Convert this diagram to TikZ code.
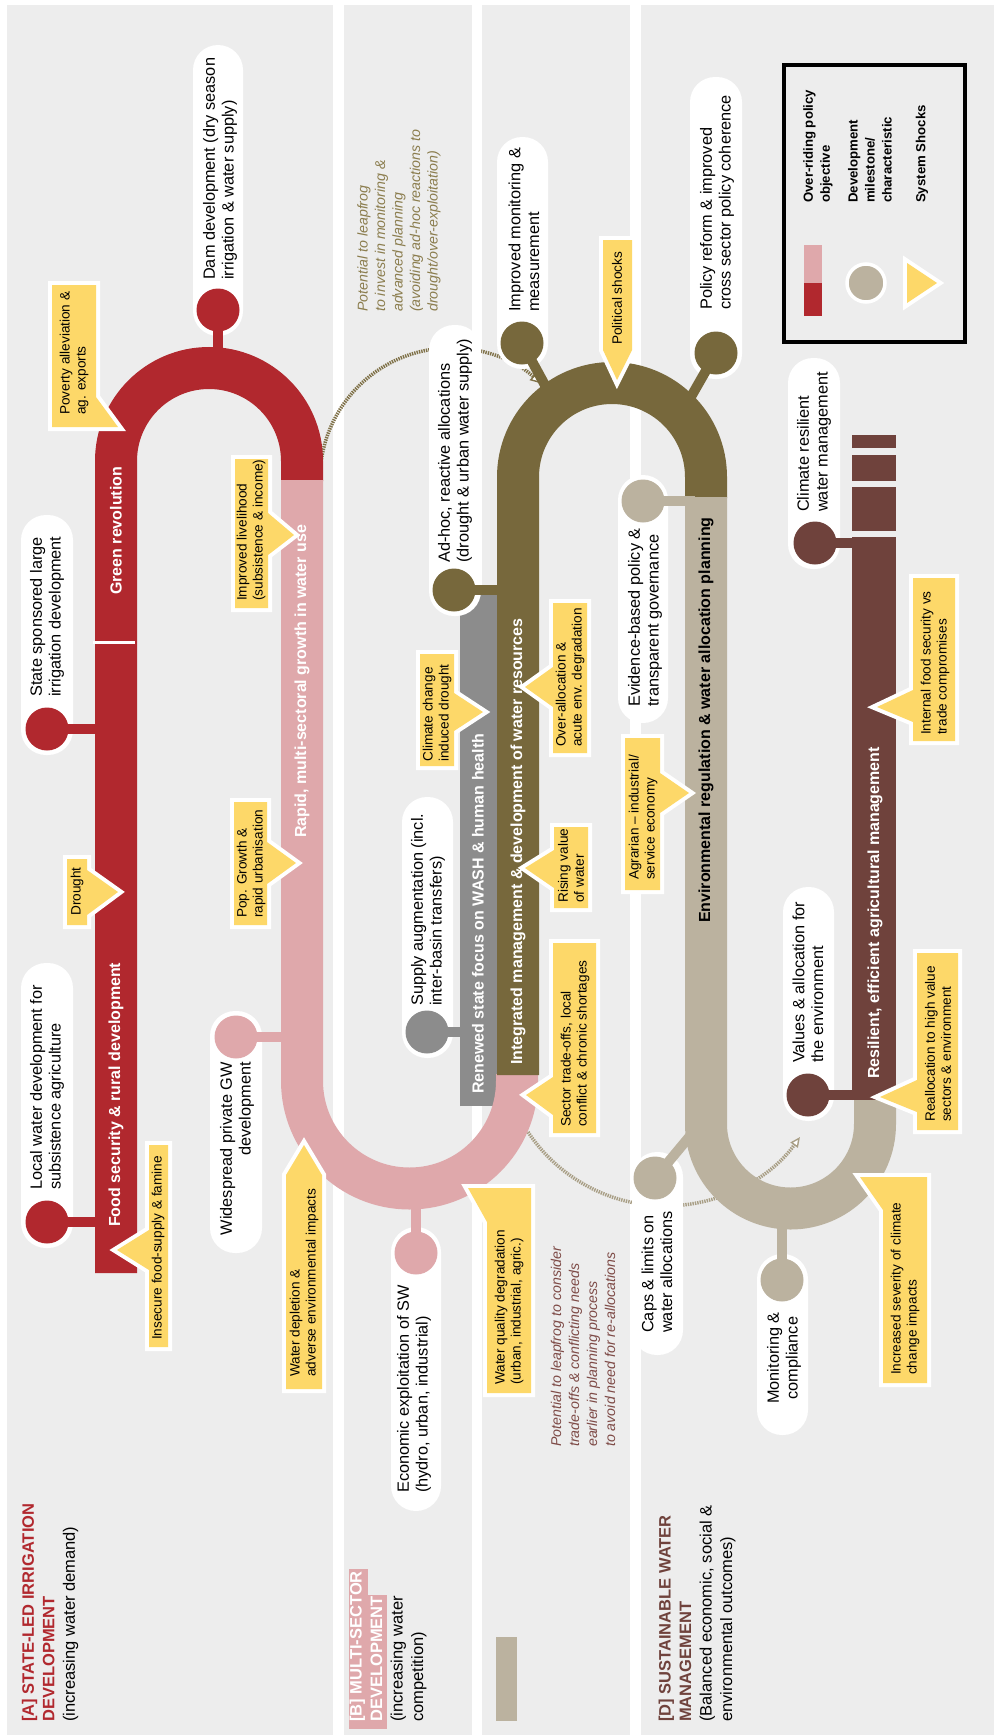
\documentclass[tikz,border=0pt]{standalone}
\usepackage{fontspec}
\setmainfont{Liberation Sans}
\usetikzlibrary{arrows.meta}
\definecolor{lanebg}{HTML}{EDEDED}
\definecolor{cred}{HTML}{B1282E}
\definecolor{cpink}{HTML}{DFA8AB}
\definecolor{colive}{HTML}{77683C}
\definecolor{cgray}{HTML}{8C8C8C}
\definecolor{ctan}{HTML}{BBB29F}
\definecolor{cbrown}{HTML}{6F423C}
\definecolor{cyellow}{HTML}{FDD869}
\definecolor{cannA}{HTML}{8B7D4E}
\definecolor{cannB}{HTML}{7E4B47}
\definecolor{cdotA}{HTML}{7F7148}
\definecolor{cdotB}{HTML}{A89E85}
\begin{document}
\begin{tikzpicture}[x=1pt,y=1pt,
  mtext/.style={rotate=90,inner sep=0,font=\fontsize{16.3}{18.7}\selectfont,align=left,anchor=west},
  stext/.style={rotate=90,inner sep=0,font=\fontsize{13.6}{16}\selectfont,align=left,anchor=west},
  btext/.style={rotate=90,inner sep=0,font=\fontsize{16}{19}\selectfont\bfseries,text=white,anchor=west},
  itext/.style={rotate=90,inner sep=0,font=\fontsize{14.2}{17.5}\selectfont\itshape,align=left,anchor=west},
  ltext/.style={rotate=90,inner sep=0,font=\fontsize{13.2}{17}\selectfont\bfseries,align=left,anchor=west},
  lanelab/.style={rotate=90,inner sep=0,font=\fontsize{16.5}{20.5}\selectfont,align=left,anchor=west},
  pill/.style={fill=white,rounded corners=25},
  mile/.style={circle,inner sep=0,minimum size=43},
  stem/.style={line width=10},
  band/.style={line width=42},
  shock/.style={fill=cyellow,preaction={draw=white,fill=white,line width=8,line join=miter}},
  dots/.style={line width=3.5,dash pattern=on 1.4pt off 1pt},
]
\useasboundingbox (0,0) rectangle (995,-1735);
\fill[white] (0,0) rectangle (995,-1735);
% lanes
\fill[lanebg] (7,-5) rectangle (333,-1735);
\fill[lanebg] (344,-5) rectangle (472,-1735);
\fill[lanebg] (482,-5) rectangle (630,-1735);
\fill[lanebg] (641,-5) rectangle (994,-1735);

% dotted leapfrog arcs
\draw[dots,cdotA,-{Triangle[open,length=10pt,width=10pt,line width=1.4pt,fill=white]}]
  (451,-479) ++(185:131) arc[start angle=185,end angle=47,radius=131];
\draw[dots,cdotB,-{Triangle[open,length=10pt,width=9pt,line width=1.4pt,fill=white]}]
  (665.7,-1040.6) ++(213.6:165.3) arc[start angle=213.6,end angle=324.3,radius=165.3];

% bands
\draw[band,cgray,line width=37] (478.5,-1106) -- (478.5,-595);
\draw[band,cred] (116,-1273) -- (116,-461) arc[start angle=180,end angle=0,radius=93] -- (302,-481);
\draw[band,cpink] (302,-480) -- (302,-1081) arc[start angle=180,end angle=360,radius=107.5] -- (517,-1074);
\draw[band,colive] (518,-1075) -- (518,-477) arc[start angle=180,end angle=0,radius=94] -- (706,-498);
\draw[band,ctan] (706,-497) -- (706,-1124) arc[start angle=180,end angle=360,radius=84.5] -- (875,-1099);
\draw[band,cbrown,line width=44] (874,-1100) -- (874,-537);
\draw[band,cbrown,line width=44] (874,-531) -- (874,-487);
\draw[band,cbrown,line width=44] (874,-481) -- (874,-455);
\draw[band,cbrown,line width=44] (874,-448) -- (874,-435);
\draw[white,line width=3] (93,-642) -- (135,-642);

% pills
\fill[pill] (21,-963) rectangle (73,-1248);
\fill[pill] (21,-515) rectangle (73,-755);
\fill[pill] (193,-45) rectangle (243,-336);
\fill[pill] (210,-1011) rectangle (262,-1253);
\fill[pill] (391,-1227) rectangle (441,-1511);
\fill[pill] (402,-797) rectangle (453,-1058);
\fill[pill] (429,-325) rectangle (481,-616);
\fill[pill] (497,-137) rectangle (548,-369);
\fill[pill] (690,-77) rectangle (742,-379);
\fill[pill] (618,-475) rectangle (668,-723);
\fill[pill] (632,-1152) rectangle (683,-1355);
\fill[pill] (757,-1254) rectangle (808,-1435);
\fill[pill] (783,-887) rectangle (834,-1121);
\fill[pill] (788,-358) rectangle (840,-569);

% milestone circles
\node[mile] (m1) at (47,-1222) {};
\node[mile] (m2) at (47,-729) {};
\node[mile] (m3) at (218,-310) {};
\node[mile] (m4) at (236,-1037) {};
\node[mile] (m5) at (416,-1253) {};
\node[mile] (m6) at (427,-1032) {};
\node[mile] (m7) at (454,-590) {};
\node[mile] (m8) at (522,-343) {};
\node[mile] (m9) at (716,-353) {};
\node[mile] (m10) at (643,-501) {};
\node[mile] (m11) at (655,-1178) {};
\node[mile] (m12) at (782,-1280) {};
\node[mile] (m13) at (808,-1095) {};
\node[mile] (m14) at (815,-543) {};

% stem end points on the bands
\coordinate (b1) at (100,-1222);
\coordinate (b2) at (100,-729);
\coordinate (b3) at (218,-362);
\coordinate (b4) at (290,-1037);
\coordinate (b5) at (416,-1200);
\coordinate (b6) at (470,-1032);
\coordinate (b7) at (505,-590);
\coordinate (b8) at (552,-398);
\coordinate (b9) at (688,-402);
\coordinate (b10) at (695,-501);
\coordinate (b11) at (695,-1130);
\coordinate (b12) at (782,-1220);
\coordinate (b13) at (860,-1095);
\coordinate (b14) at (860,-543);
\foreach \n/\c in {1/cred,2/cred,3/cred,4/cpink,5/cpink,6/cgray,7/colive,8/colive,9/colive,10/ctan,11/ctan,12/ctan,13/cbrown,14/cbrown}{
  \draw[stem,\c] (m\n.center) -- (b\n);
  \fill[\c] (m\n.center) circle[radius=21.5];
}

% band labels
\node[btext] (bl1) at (116,-1227) {Food security \& rural development};
\node[btext] (bl2) at (116,-595) {Green revolution};
\node[btext] (bl3) at (302,-838) {Rapid, multi-sectoral growth in water use};
\node[btext] (bl4) at (478,-1094) {Renewed state focus on WASH \& human health};
\node[btext] (bl5) at (518,-1065) {Integrated management \& development of water resources};
\node[btext,text=black] (bl6) at (706,-923) {Environmental regulation \& water allocation planning};
\node[btext] (bl7) at (875,-1079) {Resilient, efficient agricultural management};

% milestone texts
\node[mtext] (t1) at (47,-1190) {Local water development for\\subsistence agriculture};
\node[mtext] (t2) at (47,-697) {State sponsored large\\irrigation development};
\node[mtext] (t3) at (220,-280) {Dam development (dry season\\irrigation \& water supply)};
\node[mtext,anchor=east,align=right] (t4) at (237,-1062) {Widespread private GW\\development};
\node[mtext] (t5) at (414,-1493) {Economic exploitation of SW\\(hydro, urban, industrial)};
\node[mtext] (t6) at (428,-1006) {Supply augmentation (incl.\\inter-basin transfers)};
\node[mtext] (t7) at (455,-563) {Ad-hoc, reactive allocations\\(drought \& urban water supply)};
\node[mtext] (t8) at (524,-312) {Improved monitoring \&\\measurement};
\node[mtext] (t9) at (717,-310) {Policy reform \& improved\\cross sector policy coherence};
\node[mtext] (t10) at (645,-707) {Evidence-based policy \&\\transparent governance};
\node[mtext] (t11) at (657,-1333) {Caps \& limits on\\water allocations};
\node[mtext,anchor=center,align=center] (t12) at (784,-1358) {Monitoring \&\\compliance};
\node[mtext] (t13) at (808,-1063) {Values \& allocation for\\the environment};
\node[mtext] (t14) at (814,-512) {Climate resilient\\water management};

% system shocks
\path[shock] (52,-285) -- (96,-285) -- (96,-397) -- (118,-427) -- (52,-427) -- cycle;
\path[shock] (67,-859) -- (87,-859) -- (87,-870) -- (118,-892) -- (87,-915) -- (87,-925) -- (67,-925) -- cycle;
\path[shock] (149,-1145) -- (168,-1145) -- (168,-1347) -- (149,-1347) -- (149,-1270) -- (117,-1250) -- (149,-1230) -- cycle;
\path[shock] (235,-459) -- (268,-459) -- (268,-513) -- (294,-535) -- (268,-555) -- (268,-608) -- (235,-608) -- cycle;
\path[shock] (234,-802) -- (267,-802) -- (267,-842) -- (296,-863) -- (267,-884) -- (267,-925) -- (234,-925) -- cycle;
\path[shock] (286,-1175) -- (304,-1145) -- (322,-1175) -- (322,-1389) -- (286,-1389) -- cycle;
\path[shock] (468,-1188) -- (531,-1188) -- (531,-1393) -- (487,-1393) -- (487,-1222) -- cycle;
\path[shock] (420,-654) -- (454,-654) -- (454,-693) -- (483,-712) -- (454,-731) -- (454,-766) -- (420,-766) -- cycle;
\path[shock] (553,-603) -- (587,-603) -- (587,-753) -- (553,-753) -- (553,-707) -- (525,-687) -- (553,-667) -- cycle;
\path[shock] (554,-827) -- (588,-827) -- (588,-908) -- (554,-908) -- (554,-888) -- (525,-868) -- (554,-850) -- cycle;
\path[shock] (553,-943) -- (596,-943) -- (596,-1133) -- (553,-1133) -- (553,-1115) -- (526,-1095) -- (553,-1077) -- cycle;
\path[shock] (603,-240) -- (632,-240) -- (632,-350) -- (617,-380) -- (603,-350) -- cycle;
\path[shock] (625,-738) -- (660,-738) -- (660,-773) -- (689,-793) -- (660,-813) -- (660,-890) -- (625,-890) -- cycle;
\path[shock] (913,-578) -- (955,-578) -- (955,-741) -- (913,-741) -- (913,-722) -- (877,-707) -- (913,-690) -- cycle;
\path[shock] (917,-953) -- (958,-953) -- (958,-1130) -- (917,-1130) -- (917,-1112) -- (880,-1097) -- (917,-1080) -- cycle;
\path[shock] (860,-1177) -- (927,-1177) -- (927,-1383) -- (883,-1383) -- (883,-1210) -- cycle;

\node[stext] (s1) at (74,-415) {Poverty alleviation \&\\ag. exports};
\node[stext] (s2) at (77,-916) {Drought};
\node[stext] (s3) at (158,-1340) {Insecure food-supply \& famine};
\node[stext] (s4) at (251,-601) {Improved livelihood\\(subsistence \& income)};
\node[stext] (s5) at (251,-918) {Pop. Growth \&\\rapid urbanisation};
\node[stext] (s6) at (304,-1377) {Water depletion \&\\adverse environmental impacts};
\node[stext] (s7) at (509,-1385) {Water quality degradation\\(urban, industrial, agric.)};
\node[stext] (s8) at (437,-762) {Climate change\\induced drought};
\node[stext] (s9) at (570,-747) {Over-allocation \&\\acute env. degradation};
\node[stext] (s10) at (571,-903) {Rising value\\of water};
\node[stext] (s11) at (575,-1127) {Sector trade-offs, local\\conflict \& chronic shortages};
\node[stext] (s12) at (617,-345) {Political shocks};
\node[stext] (s13) at (643,-880) {Agrarian \textendash{} industrial/\\service economy};
\node[stext] (s14) at (935,-735) {Internal food security vs\\trade compromises};
\node[stext] (s15) at (938,-1122) {Reallocation to high value\\sectors \& environment};
\node[stext] (s16) at (905,-1375) {Increased severity of climate\\change impacts};

% annotations
\node[itext,text=cannA] (a1) at (399,-312) {Potential to leapfrog\\to invest in monitoring \&\\advanced planning\\(avoiding ad-hoc reactions to\\drought/over-exploitation)};
\node[itext,text=cannB,font=\fontsize{14.2}{18}\selectfont\itshape] (a2) at (583,-1447) {Potential to leapfrog to consider\\trade-offs \& conflicting needs\\earlier in planning process\\to avoid need for re-allocations};

% legend
\draw[black,line width=4] (784,-65) rectangle (965,-342);
\fill[cpink] (804,-245) rectangle (822,-283);
\fill[cred] (804,-283) rectangle (822,-316);
\node[circle,fill=ctan,draw=white,line width=3.5,minimum size=38,inner sep=0] (lgc) at (866,-283) {};
\path[shock] (907,-263) -- (937,-283) -- (907,-303) -- cycle;
\node[ltext] (lg1) at (818,-203) {Over-riding policy\\objective};
\node[ltext] (lg2) at (870,-203) {Development\\milestone/\\characteristic};
\node[ltext] (lg3) at (922,-203) {System Shocks};

% lane labels
\node[lanelab] (la) at (50,-1722) {\textcolor{cred}{\bfseries [A] STATE-LED IRRIGATION}\\\textcolor{cred}{\bfseries DEVELOPMENT}\\(increasing water demand)};
\fill[cpink] (349,-1569) rectangle (368,-1729);
\fill[cpink] (368,-1595) rectangle (387,-1729);
\node[lanelab] (lb) at (388,-1722) {\textcolor{white}{\bfseries [B] MULTI-SECTOR}\\\textcolor{white}{\bfseries DEVELOPMENT}\\(increasing water\\competition)};
\fill[ctan] (496,-1637) rectangle (517,-1721);
\node[lanelab] (ld) at (697,-1722) {\textcolor{cbrown}{\bfseries [D] SUSTAINABLE WATER}\\\textcolor{cbrown}{\bfseries MANAGEMENT}\\(Balanced economic, social \&\\environmental outcomes)};
\end{tikzpicture}
\end{document}
